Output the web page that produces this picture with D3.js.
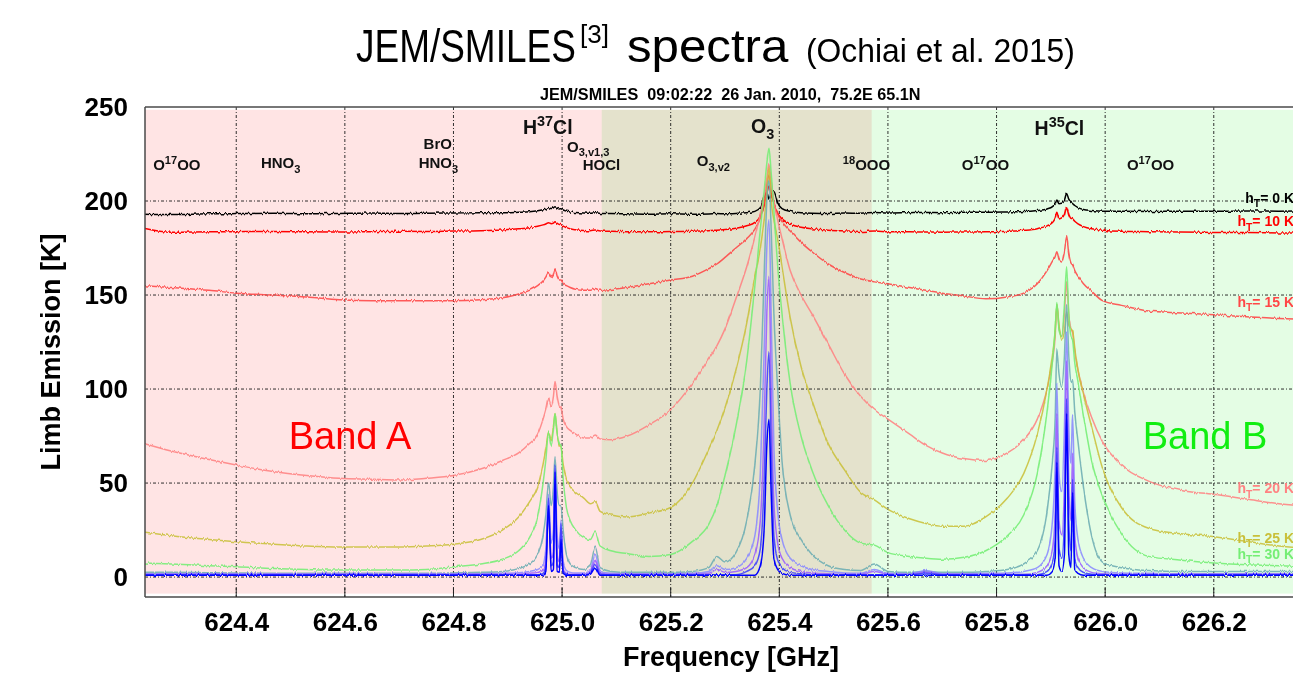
<!DOCTYPE html>
<html>
<head>
<meta charset="utf-8">
<script src="https://cdn.jsdelivr.net/npm/d3@7"></script>
<style>
  html, body { margin: 0; padding: 0; background: #ffffff; }
  svg { display: block; font-family: "Liberation Sans", Arial, sans-serif; }
</style>
</head>
<body>
<svg id="chart" width="1293" height="685"></svg>
<script>
// ---- Frequency grid (GHz) shared by every limb spectrum ----
const freqGHz = [
  624.23, 624.28, 624.35, 624.40, 624.47, 624.53, 624.59, 624.65, 624.70, 624.75,
  624.80, 624.85, 624.89, 624.92, 624.94, 624.955, 624.965, 624.970, 624.975, 624.980,
  624.984, 624.987, 624.991, 624.995, 624.998, 625.002, 625.008, 625.015, 625.025, 625.040,
  625.052, 625.061, 625.070, 625.090, 625.120, 625.160, 625.200, 625.240, 625.270, 625.285,
  625.300, 625.320, 625.340, 625.355, 625.365, 625.372, 625.377, 625.381, 625.385, 625.390,
  625.397, 625.405, 625.420, 625.440, 625.460, 625.490, 625.520, 625.550, 625.575, 625.600,
  625.640, 625.670, 625.700, 625.740, 625.780, 625.820, 625.850, 625.875, 625.893, 625.903,
  625.908, 625.911, 625.915, 625.920, 625.925, 625.929, 625.933, 625.937, 625.940, 625.944,
  625.950, 625.960, 625.975, 625.995, 626.030, 626.080, 626.140, 626.200, 626.260, 626.320,
  626.400
];

// ---- Limb emission brightness temperature [K] per tangent height ----
const tb00km = [
  193.0,192.8,193.2,193.3,193.5,193.2,193.4,193.6,193.3,193.5,
  193.6,193.8,193.7,194.0,194.3,194.8,195.3,195.6,196.5,196.0,
  196.4,197.0,196.3,195.8,195.9,195.2,194.6,194.2,193.9,193.6,
  193.5,193.8,193.4,193.3,193.2,193.0,193.2,193.0,193.1,193.3,
  193.2,193.4,193.8,194.5,196.5,202.0,204.5,201.0,203.0,205.0,
  199.0,196.0,194.5,193.8,193.5,193.4,193.6,193.5,193.9,193.6,
  193.8,193.9,193.8,194.0,194.0,194.2,194.4,195.0,195.8,197.0,
  198.5,200.5,198.6,198.8,200.5,204.0,201.0,199.2,198.6,197.6,
  196.5,195.5,195.0,194.6,194.5,194.4,194.6,194.5,194.7,194.6,
  194.7
];
const tb10km = [
  185.5,183.4,183.6,183.7,183.8,183.6,183.5,183.7,183.9,183.8,
  184.0,184.2,184.6,185.2,185.8,186.6,187.3,187.8,188.5,187.9,
  188.2,189.0,188.1,187.5,187.4,186.6,185.9,185.2,184.7,184.3,
  184.2,184.6,184.1,183.9,183.7,183.6,183.8,183.9,184.2,184.5,
  184.8,185.5,186.8,188.6,192.0,198.0,204.0,208.0,204.0,199.0,
  193.5,190.5,187.8,186.0,185.2,184.5,184.1,183.8,184.0,183.7,
  183.6,183.5,183.4,183.5,183.6,183.9,184.4,185.3,186.8,188.5,
  191.0,194.0,190.5,191.0,193.0,197.0,193.0,190.8,190.5,189.2,
  187.8,186.4,185.2,184.5,183.9,183.7,183.5,183.3,183.2,183.0,
  182.9
];
const tb15km = [
  155,154,152.5,151,150,149,147.5,147,147,147,
  147,147.5,148.5,150.5,152.5,155,157.5,159.5,162,159.5,
  161,164,160,158,158,156,155,154,153,152.5,
  152.5,153.5,152.5,153,154,156,158,160,164,166.5,
  170,175,180,185,191,199,208,214,207,199,
  193,189,184,178,173,166.5,162,158.5,157,156,
  154,152.5,151,149.5,148,149,151,156,163,168,
  170.5,173,169,167.5,173,181,172,167,166,163,
  160,156,152,147,144.5,141.5,140.5,139.5,138.5,137.5,
  137
];
const tb20km = [
  71,67,62.5,59.6,56,54,52.5,52,51.6,52.5,
  54,57.5,62,66,71,76,84,89,95,91,
  96,104,96,91,90,84,80,78,76,74,
  74,75.5,73.5,73,75,81,89,103,116,123,
  132,148,165,181,193,203,212,220,210,200,
  190,180,163,150,140,124,108,96,89,84,
  76,70,66,63,62,66,73,84,100,115,
  128,145,133,128,140,157,140,132,130,120,
  110,98,85,72,59.5,51,46,44,41.5,39,
  37
];
const tb25km = [
  24,22,20,18.8,17.5,16.5,16,16,16,16.5,
  17.5,20,25,32,40,48,60,68,77,73,
  80,87,76,70,69,60,52,48,45,42,
  39,40,35,33,32,34,37,50,68,78,
  90,110,135,160,175,190,205,218,200,190,
  180,165,138,112,94,71,57,45,41,36,
  31,28.5,27,27,32,42,55,76,100,118,
  131,145,134,126,131,141,134,132,131,122,
  110,97,80,58,37,26,23,21.5,19,16.5,
  15
];
const tb30km = [
  7.5,7,6,5.5,4.5,4,3.7,3.7,3.7,4,
  5.5,7,9.5,14,21,32,50,62,77,70,
  78,87,76,71,70,52,37,30,25,21,
  20,24,16.5,14,12.5,11,12,19,28,38,
  54,80,115,155,185,205,220,228,215,195,
  165,140,103,75,57,38,25,18,17,13,
  11,10,9.5,10.5,14,22,33,55,88,115,
  132,146,132,128,145,165,140,128,126,114,
  104,86,62,43,23,11,9,7.5,6.5,6,
  5.5
];
const tb35km = [
  2.5,2.5,2.3,2.2,2,2,2,2,2,2,
  2.2,2.5,3,4.5,7,12,22,33,50,38,
  48,64,45,38,38,25,12,7,5,4,
  6,16,5,3,2.5,2.5,2.5,3,5,11,
  8,13,30,60,100,160,200,211,185,140,
  100,62,33,20,12,6,4,3.5,7,3,
  2.5,3,2.5,2.5,3,4,7,14,35,62,
  85,121,108,101,118,145,118,104,105,88,
  72,48,22,8,5,3.5,3,3,3,3,
  3
];
const tb40km = [
  1.8,1.8,1.8,1.8,1.8,1.8,1.8,1.8,1.8,1.8,
  1.8,1.8,2,2.3,3,4,6,15,44,18,
  25,58,22,15,30,8,3.5,2.5,2.2,2.2,
  3.5,12,3,2,1.8,1.8,1.8,2,3,6,
  4,5,10,22,55,120,175,190,140,70,
  35,20,10,6,4,3,2.2,2,4,2,
  1.8,3.5,1.8,1.8,2,2.2,3,5,12,30,
  60,103,55,45,80,131,80,60,87,40,
  20,10,5,3,2.2,2,1.8,1.8,1.8,1.8,
  1.8
];
const tb45km = [
  1.5,1.5,1.5,1.5,1.5,1.5,1.5,1.5,1.5,1.5,
  1.5,1.5,1.5,1.5,2,2.5,3.5,8,36,10,
  14,55,12,8,25,4,2,1.5,1.5,1.5,
  2.5,9,2,1.5,1.5,1.5,1.5,1.5,2,4,
  2.5,3,5,12,30,80,140,160,100,40,
  18,10,5,3,2.2,1.8,1.5,1.5,3,1.5,
  1.5,2.5,1.5,1.5,1.5,1.5,1.5,2.5,6,15,
  35,87,30,22,50,115,50,30,66,22,
  10,5,2.5,1.8,1.5,1.5,1.5,1.5,1.5,1.5,
  1.5
];
const tb50km = [
  1.2,1.2,1.2,1.2,1.2,1.2,1.2,1.2,1.2,1.2,
  1.2,1.2,1.2,1.2,1.2,1.2,2,5,42,6,
  8,60,7,5,28,3,1.5,1.2,1.2,1.2,
  2,7,1.5,1.2,1.2,1.2,1.2,1.2,1.2,1.2,
  1.2,1.2,3,6,15,50,100,120,70,22,
  9,5,2.5,1.8,1.2,1.2,1.2,1.2,1.2,1.2,
  1.2,2,1.2,1.2,1.2,1.2,1.2,1.2,3,8,
  20,69,15,10,30,95,30,14,52,10,
  5,2.5,1.5,1.2,1.2,1.2,1.2,1.2,1.2,1.2,
  1.2
];
const tb55km = [
  1,1,1,1,1,1,1,1,1,1,
  1,1,1,1,1,1,1,3,38,3,
  4,56,3,2.5,20,2,1,1,1,1,
  1.5,5,1,1,1,1,1,1,1,1,
  1,1,1,1,6,25,70,84,45,10,
  4,2,1,1,1,1,1,1,1,1,
  1,1,1,1,1,1,1,1,1,3,
  10,61,6,3,12,87,12,5,45,4,
  2,1,1,1,1,1,1,1,1,1,
  1
];

// Tangent heights [km] of the spectra above, bottom of the atmosphere first
const tangentHeights = [0, 10, 15, 20, 25, 30, 35, 40, 45, 50, 55];
const spectra = [tb00km, tb10km, tb15km, tb20km, tb25km, tb30km, tb35km, tb40km, tb45km, tb50km, tb55km];

// Receiver bands [GHz]
const bandNames = ["Band A", "Band B"];
const bandLimits = [[624.228, 625.570], [625.073, 626.45]];

// Axis ticks
const xTicks = [624.4, 624.6, 624.8, 625.0, 625.2, 625.4, 625.6, 625.8, 626.0, 626.2];
const yTicks = [0, 50, 100, 150, 200, 250];

// Height labels at the right edge: tangent height and the level [K] they sit at
const labelHeights = [0, 10, 15, 20, 25, 30];
const labelLevels = [199, 186.5, 143.5, 44.5, 18, 9.5];

// Molecular line identifications: anchor frequency [GHz], level [K], rich text parts
const lineIds = [
  { f: 624.247, k: 216.5, big: false, parts: [["O", "n"], ["17", "sup"], ["OO", "n"]] },
  { f: 624.4455, k: 217.5, big: false, parts: [["HNO", "n"], ["3", "sub"]] },
  { f: 624.745, k: 227.5, big: false, parts: [["BrO", "n"]] },
  { f: 624.736, k: 217.5, big: false, parts: [["HNO", "n"], ["3", "sub"]] },
  { f: 624.928, k: 235.8, big: true, parts: [["H", "n"], ["37", "sup"], ["Cl", "n"]] },
  { f: 625.009, k: 226.2, big: false, parts: [["O", "n"], ["3,v1,3", "sub"]] },
  { f: 625.038, k: 216.6, big: false, parts: [["HOCl", "n"]] },
  { f: 625.248, k: 218.5, big: false, parts: [["O", "n"], ["3,v2", "sub"]] },
  { f: 625.348, k: 236.0, big: true, parts: [["O", "n"], ["3", "sub"]] },
  { f: 625.517, k: 216.5, big: false, parts: [["18", "sup"], ["OOO", "n"]] },
  { f: 625.736, k: 216.5, big: false, parts: [["O", "n"], ["17", "sup"], ["OO", "n"]] },
  { f: 625.870, k: 235.0, big: true, parts: [["H", "n"], ["35", "sup"], ["Cl", "n"]] },
  { f: 626.040, k: 216.5, big: false, parts: [["O", "n"], ["17", "sup"], ["OO", "n"]] }
];

// ---- Styles ----
const traceColors = ["#000000", "#ff0000", "#ff4646", "#ff8282", "#c9c03a", "#74ee74",
                     "#6cadb3", "#8a8aff", "#9a5cff", "#3c3cff", "#0000ff"];
const bandColors = ["#ffe4e4", "#e4fde4"];
const bandTextColors = ["#ff0000", "#11ee11"];

const svg = d3.select("#chart");
const W = 1293, H = 685;
const plot = { left: 145, right: 1330, top: 107, bottom: 597 };

const x = d3.scaleLinear().domain([624.232, 626.414]).range([plot.left, plot.right]);
const y = d3.scaleLinear().domain([-10.6, 250]).range([plot.bottom, plot.top]);

const defs = svg.append("defs");
defs.append("clipPath").attr("id", "plot-clip")
  .append("rect")
  .attr("x", plot.left).attr("y", plot.top)
  .attr("width", plot.right - plot.left).attr("height", plot.bottom - plot.top);

// Receiver noise texture on the measured traces (vertical jitter only)
const noise = defs.append("filter").attr("id", "trace-noise")
  .attr("filterUnits", "userSpaceOnUse")
  .attr("x", plot.left).attr("y", plot.top - 5)
  .attr("width", plot.right - plot.left).attr("height", plot.bottom - plot.top + 10)
  .attr("color-interpolation-filters", "sRGB");
noise.append("feTurbulence").attr("type", "fractalNoise")
  .attr("baseFrequency", "0.55 0.04").attr("numOctaves", 2).attr("seed", 7).attr("result", "turb");
noise.append("feColorMatrix").attr("in", "turb").attr("type", "matrix")
  .attr("values", "0 0 0 0 0.5  0 1 0 0 0  0 0 0 0 0  0 0 0 0 1").attr("result", "jitter");
noise.append("feDisplacementMap").attr("in", "SourceGraphic").attr("in2", "jitter")
  .attr("scale", 3.6).attr("xChannelSelector", "R").attr("yChannelSelector", "G");

// ---- Band backgrounds (overlap blends to olive) ----
const bandG = svg.append("g").attr("clip-path", "url(#plot-clip)").style("isolation", "isolate");
bandG.selectAll("rect").data(bandLimits).join("rect")
  .attr("x", d => x(d[0]))
  .attr("width", d => x(d[1]) - x(d[0]))
  .attr("y", y(248.5))
  .attr("height", y(-8.8) - y(248.5))
  .attr("fill", (d, i) => bandColors[i])
  .style("mix-blend-mode", "multiply");

// ---- Grid ----
const gridG = svg.append("g").attr("clip-path", "url(#plot-clip)")
  .attr("stroke", "#1a1a1a").attr("stroke-width", 0.9).attr("stroke-dasharray", "3,2,1,2");
gridG.selectAll("line.v").data(xTicks).join("line").attr("class", "v")
  .attr("x1", d => x(d)).attr("x2", d => x(d))
  .attr("y1", plot.top).attr("y2", plot.bottom);
gridG.selectAll("line.h").data(yTicks.filter(v => v < 250)).join("line").attr("class", "h")
  .attr("x1", plot.left).attr("x2", plot.right)
  .attr("y1", d => y(d)).attr("y2", d => y(d));

// ---- Spectra ----
const line = d3.line()
  .x((d, i) => x(freqGHz[i]))
  .y(d => y(d))
  .curve(d3.curveMonotoneX);

const traceG = svg.append("g").attr("clip-path", "url(#plot-clip)")
  .append("g").attr("filter", "url(#trace-noise)");
traceG.selectAll("path").data(spectra).join("path")
  .attr("d", d => line(d))
  .attr("fill", "none")
  .attr("stroke", (d, i) => traceColors[i])
  .attr("stroke-width", 1.5)
  .attr("stroke-linejoin", "round")
  .attr("stroke-opacity", (d, i) => i === 0 || i === 1 || i === 10 ? 1 : 0.88);

// ---- Frame and inner ticks ----
const frame = svg.append("g").attr("stroke", "#4a4a4a").attr("stroke-width", 1.5).attr("fill", "none");
frame.append("line").attr("x1", plot.left).attr("x2", plot.left).attr("y1", plot.top).attr("y2", plot.bottom);
frame.append("line").attr("x1", plot.left).attr("x2", W).attr("y1", plot.top).attr("y2", plot.top);
frame.append("line").attr("x1", plot.left).attr("x2", W).attr("y1", plot.bottom).attr("y2", plot.bottom);
svg.append("g").attr("stroke", "#222").attr("stroke-width", 1)
  .selectAll("line").data(xTicks).join("line")
  .attr("x1", d => x(d)).attr("x2", d => x(d))
  .attr("y1", plot.bottom).attr("y2", plot.bottom - 9);

// ---- Axes (labels only) ----
const xAxis = svg.append("g").attr("transform", `translate(0,${plot.bottom})`)
  .call(d3.axisBottom(x).tickValues(xTicks).tickFormat(d3.format(".1f")).tickSize(0).tickPadding(16));
const yAxis = svg.append("g").attr("transform", `translate(${plot.left},0)`)
  .call(d3.axisLeft(y).tickValues(yTicks).tickFormat(d3.format("d")).tickSize(0).tickPadding(17));
[xAxis, yAxis].forEach(a => {
  a.select(".domain").remove();
  a.selectAll("text")
    .attr("fill", "#000")
    .style("font-family", "'Liberation Sans', Arial, sans-serif")
    .style("font-weight", "bold")
    .style("font-size", "26px");
});

svg.append("text")
  .attr("x", 731).attr("y", 666)
  .attr("text-anchor", "middle")
  .style("font-weight", "bold").style("font-size", "27px")
  .text("Frequency [GHz]");

svg.append("text")
  .attr("transform", "translate(60,352) rotate(-90)")
  .attr("text-anchor", "middle")
  .style("font-weight", "bold").style("font-size", "27px")
  .text("Limb Emission [K]");

// ---- Rich text helper (sub/superscripts) ----
function richText(sel, parts, size) {
  let cur = 0;
  parts.forEach(([t, kind]) => {
    const off = kind === "sup" ? -0.42 * size : kind === "sub" ? 0.3 * size : 0;
    sel.append("tspan")
      .attr("dy", off - cur)
      .style("font-size", (kind === "n" ? size : size * 0.74) + "px")
      .text(t);
    cur = off;
  });
}

// ---- Line identifications ----
const idG = svg.append("g").style("font-weight", "bold").attr("fill", "#111");
lineIds.forEach(d => {
  const t = idG.append("text").attr("x", x(d.f)).attr("y", y(d.k));
  richText(t, d.parts, d.big ? 19.5 : 15);
});

// ---- Band names ----
svg.append("g").selectAll("text").data(bandNames).join("text")
  .attr("x", (d, i) => i === 0 ? 350 : 1205)
  .attr("y", 449)
  .attr("text-anchor", "middle")
  .style("font-size", "38px")
  .attr("fill", (d, i) => bandTextColors[i])
  .text(d => d);

// ---- Tangent height labels ----
const hlG = svg.append("g").style("font-weight", "bold");
labelHeights.forEach((h, i) => {
  const t = hlG.append("text")
    .attr("x", 1294).attr("y", y(labelLevels[i]))
    .attr("text-anchor", "end")
    .attr("fill", traceColors[i]);
  richText(t, [["h", "n"], ["T", "sub"], [`= ${h} K`, "n"]], 14);
});

// ---- Titles (horizontally condensed face via scaling) ----
const titleParts = [
  { text: "JEM/SMILES", x: 356, y: 62, size: 46, sx: 0.804 },
  { text: "[3]", x: 580, y: 43, size: 26, sx: 1.0 },
  { text: "spectra", x: 627, y: 62, size: 46, sx: 1.07 },
  { text: "(Ochiai et al. 2015)", x: 806, y: 62, size: 33, sx: 0.965 }
];
svg.append("g").selectAll("text").data(titleParts).join("text")
  .attr("transform", d => `translate(${d.x},${d.y}) scale(${d.sx},1)`)
  .style("font-size", d => d.size + "px")
  .attr("fill", "#000")
  .text(d => d.text);

svg.append("text")
  .attr("transform", "translate(540,100) scale(0.955,1)")
  .style("font-weight", "bold").style("font-size", "17px")
  .style("white-space", "pre")
  .text("JEM/SMILES  09:02:22  26 Jan. 2010,  75.2E 65.1N");
</script>
</body>
</html>
